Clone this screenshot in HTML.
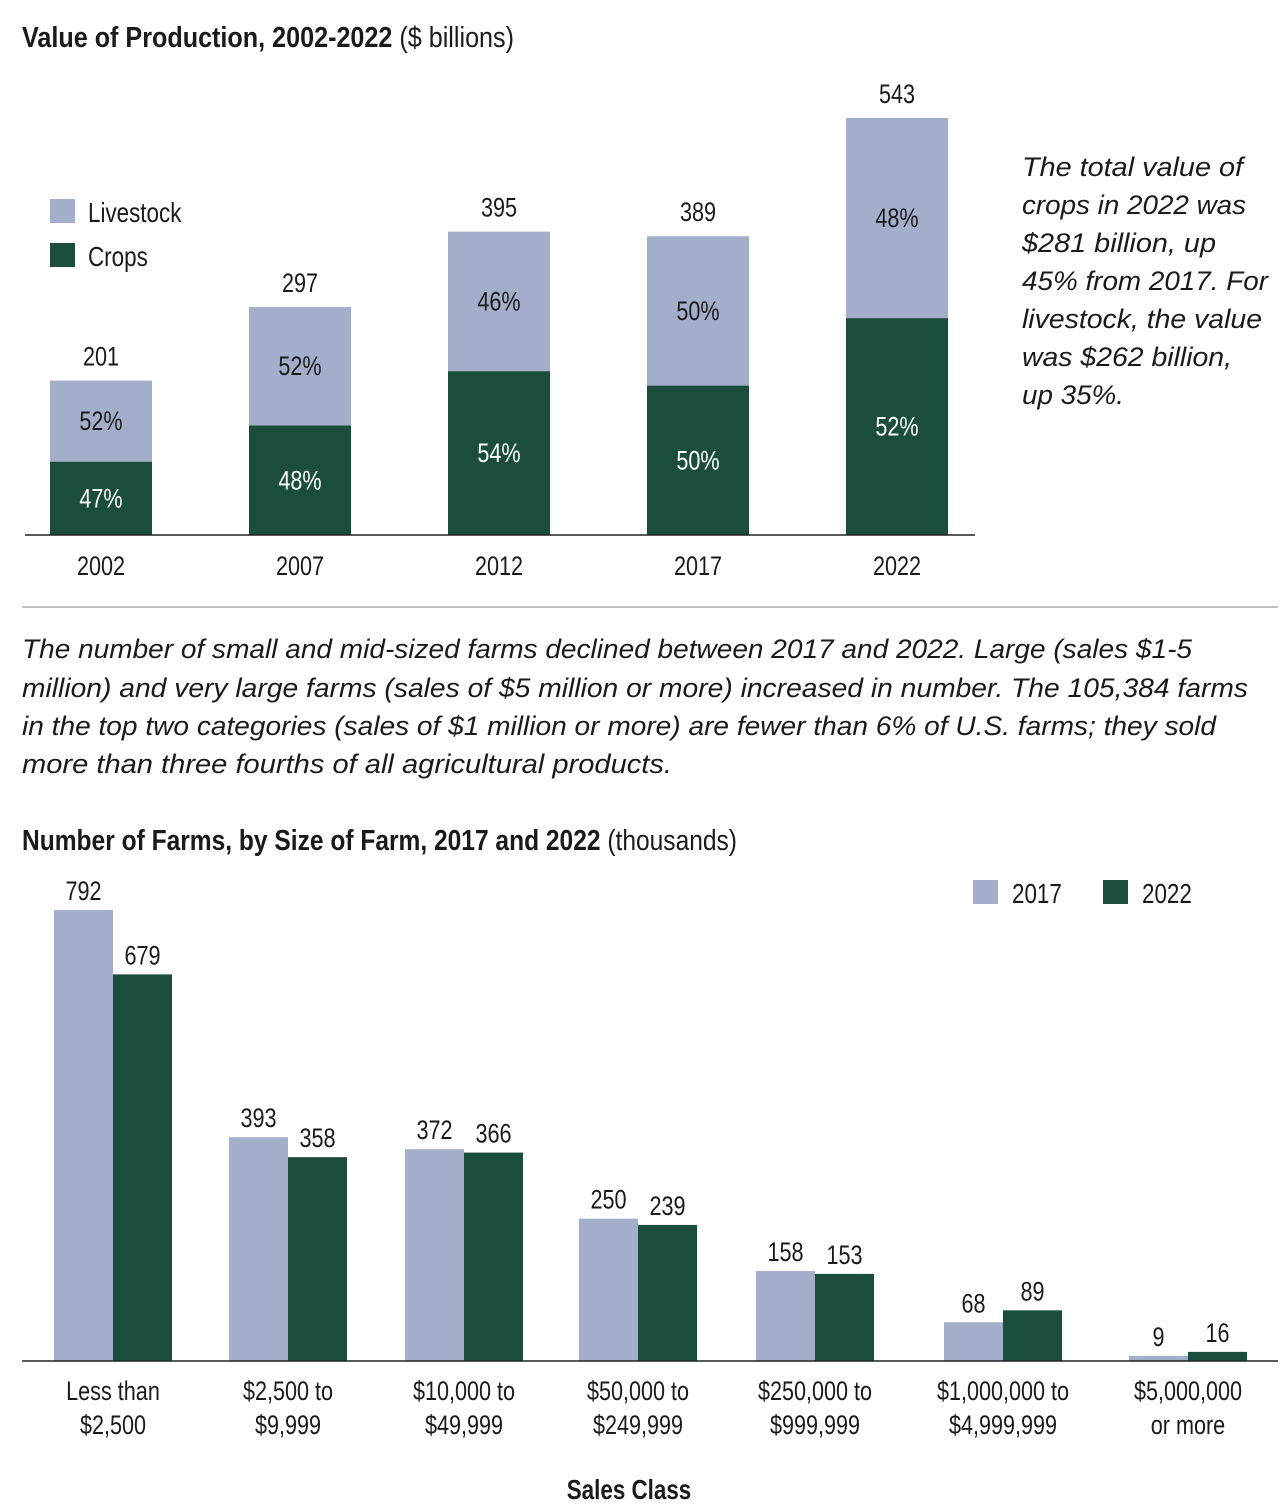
<!DOCTYPE html>
<html><head><meta charset="utf-8"><style>
html,body{margin:0;padding:0;background:#fff;width:1284px;height:1512px;overflow:hidden}
svg{display:block}
text{font-family:"Liberation Sans Narrow","Liberation Sans",sans-serif;fill:#1a1a1a}
.it{font-family:"Liberation Sans",sans-serif;font-style:italic;font-size:27px}
</style></head><body>
<svg id="chart" width="1284" height="1512" viewBox="0 0 1284 1512">
<text x="22" y="47" font-size="29" textLength="492" lengthAdjust="spacingAndGlyphs"><tspan font-weight="bold">Value of Production, 2002-2022</tspan> ($ billions)</text>
<rect x="50" y="199" width="25" height="24" fill="#a3aecb"/>
<text class="c" x="88" y="222" font-size="28">Livestock</text>
<rect x="50" y="243" width="25" height="24" fill="#1a4d3c"/>
<text class="c" x="88" y="266" font-size="28">Crops</text>
<g id="top-bars"></g>
<line x1="25" y1="535" x2="975" y2="535" stroke="#222" stroke-width="1.5"/>
<g>
<text class="it" x="1022" y="176" textLength="221" lengthAdjust="spacingAndGlyphs">The total value of</text>
<text class="it" x="1022" y="214" textLength="224" lengthAdjust="spacingAndGlyphs">crops in 2022 was</text>
<text class="it" x="1022" y="252" textLength="194" lengthAdjust="spacingAndGlyphs">$281 billion, up</text>
<text class="it" x="1022" y="290" textLength="246" lengthAdjust="spacingAndGlyphs">45% from 2017. For</text>
<text class="it" x="1022" y="328" textLength="240" lengthAdjust="spacingAndGlyphs">livestock, the value</text>
<text class="it" x="1022" y="366" textLength="210" lengthAdjust="spacingAndGlyphs">was $262 billion,</text>
<text class="it" x="1022" y="404" textLength="102" lengthAdjust="spacingAndGlyphs">up 35%.</text>
</g>
<line x1="22" y1="607" x2="1278" y2="607" stroke="#aaa" stroke-width="1.5"/>
<g>
<text class="it" x="22" y="658" textLength="1170" lengthAdjust="spacingAndGlyphs">The number of small and mid-sized farms declined between 2017 and 2022. Large (sales $1-5</text>
<text class="it" x="22" y="697" textLength="1226" lengthAdjust="spacingAndGlyphs">million) and very large farms (sales of $5 million or more) increased in number. The 105,384 farms</text>
<text class="it" x="22" y="735" textLength="1194" lengthAdjust="spacingAndGlyphs">in the top two categories (sales of $1 million or more) are fewer than 6% of U.S. farms; they sold</text>
<text class="it" x="22" y="773" textLength="650" lengthAdjust="spacingAndGlyphs">more than three fourths of all agricultural products.</text>
</g>
<text x="22" y="850" font-size="29" textLength="715" lengthAdjust="spacingAndGlyphs"><tspan font-weight="bold">Number of Farms, by Size of Farm, 2017 and 2022</tspan> (thousands)</text>
<rect x="973" y="880" width="25" height="24" fill="#a3aecb"/>
<text class="c" x="1012" y="903" font-size="28">2017</text>
<rect x="1103" y="880" width="25" height="24" fill="#1a4d3c"/>
<text class="c" x="1142" y="903" font-size="28">2022</text>
<g id="bot-bars"></g>
<line x1="22" y1="1361" x2="1278" y2="1361" stroke="#222" stroke-width="1.5"/>
<text class="c" x="629" y="1499" font-size="28" font-weight="bold" text-anchor="middle">Sales Class</text>
</svg>
<script>
const years = ["2002","2007","2012","2017","2022"];
const totals = [201,297,395,389,543];
const cropPct = [47,48,54,50,52];
const livePct = [52,52,46,50,48];
const classes = [["Less than","$2,500"],["$2,500 to","$9,999"],["$10,000 to","$49,999"],["$50,000 to","$249,999"],["$250,000 to","$999,999"],["$1,000,000 to","$4,999,999"],["$5,000,000","or more"]];
const farms2017 = [792,393,372,250,158,68,9];
const farms2022 = [679,358,366,239,153,89,16];

const NS="http://www.w3.org/2000/svg";
function mk(tag,attrs,parent,txt){const e=document.createElementNS(NS,tag);for(const k in attrs)e.setAttribute(k,attrs[k]);if(txt!==undefined)e.textContent=txt;parent.appendChild(e);return e;}

const topBase=535, topScale=0.768;
const topX=i=>50+i*199, topW=102;
const tg=document.getElementById('top-bars');
years.forEach((y,i)=>{
  const h=totals[i]*topScale, ch=h*cropPct[i]/(cropPct[i]+livePct[i]);
  const x=topX(i), cx=x+topW/2;
  const lv=mk('rect',{x:x,y:topBase-h,width:topW,height:h-ch,fill:'#a3aecb'},tg);
  
  
  const cr=mk('rect',{x:x,y:topBase-ch,width:topW,height:ch,fill:'#1a4d3c'},tg);
  
  
  const t=mk('text',{class:'c',x:cx,y:topBase-h-15,'font-size':27,'text-anchor':'middle'},tg,String(totals[i]));
  
  
  const lp=mk('text',{class:'c',x:cx,y:topBase-ch-(h-ch)/2+9,'font-size':27,'text-anchor':'middle'},tg,livePct[i]+'%');
  
  
  const cp=mk('text',{class:'c',x:cx,y:topBase-ch/2+9,'font-size':27,'text-anchor':'middle',style:'fill:#fff'},tg,cropPct[i]+'%');
  
  
  const yl=mk('text',{class:'c',x:cx,y:575,'font-size':27,'text-anchor':'middle'},tg,y);
  
  
});

const botBase=1361, botScale=0.5694, bw=59;
const centers=[113,288,464,638,815,1003,1188];
const bg=document.getElementById('bot-bars');
classes.forEach((c,i)=>{
  const cx=centers[i];
  [[farms2017[i],'#a3aecb',cx-bw,'2017'],[farms2022[i],'#1a4d3c',cx,'2022']].forEach(([v,col,x,yr])=>{
    const h=v*botScale;
    const r=mk('rect',{x:x,y:botBase-h,width:bw,height:h,fill:col},bg);
    
    
    const t=mk('text',{class:'c',x:x+bw/2,y:botBase-h-10,'font-size':27,'text-anchor':'middle'},bg,String(v));
    
    
  });
  c.forEach((line,j)=>{
    const t=mk('text',{class:'c',x:cx,y:1400+j*34,'font-size':27,'text-anchor':'middle'},bg,line);
    
    
  });
});
// condense text to mimic a narrow face
document.querySelectorAll('text.c').forEach(t=>{
  const w=t.getComputedTextLength();
  t.setAttribute('textLength',(w*0.8).toFixed(1));
  t.setAttribute('lengthAdjust','spacingAndGlyphs');
});
</script>
</body></html>
